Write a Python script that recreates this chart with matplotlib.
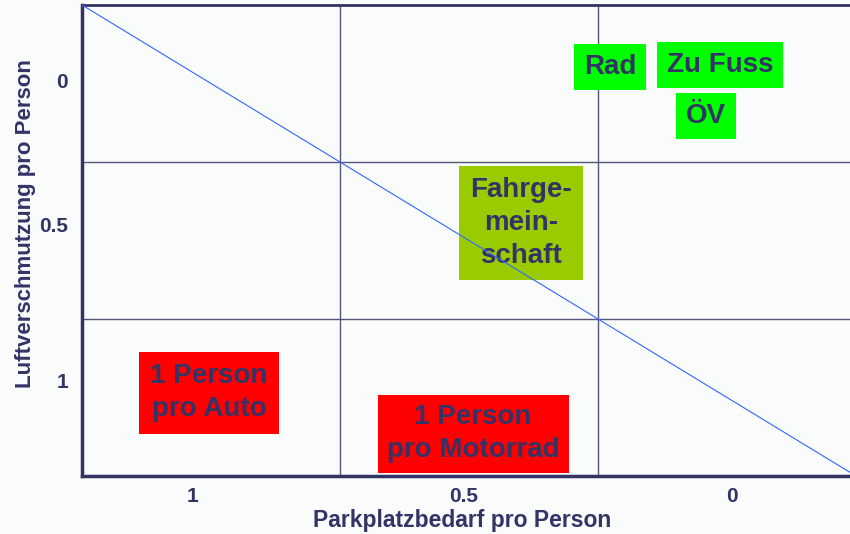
import matplotlib.pyplot as plt

# tick labels (x runs 1 -> 0 left to right, y runs 0 -> 1 top to bottom)
x_tick_pos = [0.43, 1.48, 2.52]
x_tick_labels = ["1", "0.5", "0"]
y_tick_pos = [0.48, 1.40, 2.39]
y_tick_labels = ["0", "0.5", "1"]

# cell borders of the 3x3 grid
x_borders = [1, 2]
y_borders = [1, 2]

# category boxes: label, x, y, colour
labels = ["Rad", "Zu Fuss", "ÖV", "Fahrge-\nmein-\nschaft",
          "1 Person\npro Auto", "1 Person\npro Motorrad"]
label_x = [2.047, 2.473, 2.419, 1.702, 0.492, 1.516]
label_y = [0.395, 0.382, 0.707, 1.389, 2.471, 2.732]
label_colors = ["#00ff00", "#00ff00", "#00ff00", "#99cc00", "#ff0000", "#ff0000"]

# diagonal trade-off line
diag_x = [0, 3]
diag_y = [0, 3]

navy = "#333366"
plt.rcParams["font.family"] = ["Liberation Sans", "DejaVu Sans"]
plt.rcParams["font.weight"] = "bold"

fig = plt.figure(figsize=(8.5, 5.34), dpi=100, facecolor="#fafbfb")
ax = fig.add_axes([82 / 850, 1 - 476 / 534, 1 - 82 / 850, (476 - 5) / 534])
ax.set_facecolor("#fafbfb")

ax.set_xlim(0, 768 / 258)
ax.set_ylim(3, 0)

for xb in x_borders:
    ax.axvline(xb, color="#55557a", lw=1.0, zorder=1)
for yb in y_borders:
    ax.axhline(yb, color="#55557a", lw=1.0, zorder=1)

ax.plot(diag_x, diag_y, color="#3366ff", lw=0.8, zorder=3)

pads = [0.35, 0.35, 0.35, 0.4, 0.4, 0.33]
for txt, x, y, c, p in zip(labels, label_x, label_y, label_colors, pads):
    ax.text(x, y, txt, ha="center", va="center", fontsize=20, fontweight="bold",
            color=navy, linespacing=1.35, zorder=2,
            bbox=dict(boxstyle=f"square,pad={p}", fc=c, ec="none"))

ax.set_xticks(x_tick_pos)
ax.set_xticklabels(x_tick_labels)
ax.set_yticks(y_tick_pos)
ax.set_yticklabels(y_tick_labels)
ax.tick_params(length=0, labelsize=15, colors=navy)
ax.tick_params(axis="x", pad=8)
ax.tick_params(axis="y", pad=10)

ax.set_xlabel("Parkplatzbedarf pro Person", fontsize=16.5, fontweight="bold",
              color=navy)
ax.set_ylabel("Luftverschmutzung pro Person", fontsize=16, fontweight="bold",
              color=navy)
ax.xaxis.set_label_coords(0.495, -0.07)
ax.yaxis.set_label_coords(-0.06, 0.535)

for side in ["left", "bottom", "top"]:
    ax.spines[side].set_color(navy)
ax.spines["left"].set_linewidth(2.5)
ax.spines["bottom"].set_linewidth(2.5)
ax.spines["top"].set_linewidth(2)
ax.spines["right"].set_visible(False)

fig.savefig("out.png", dpi=100, facecolor=fig.get_facecolor())
